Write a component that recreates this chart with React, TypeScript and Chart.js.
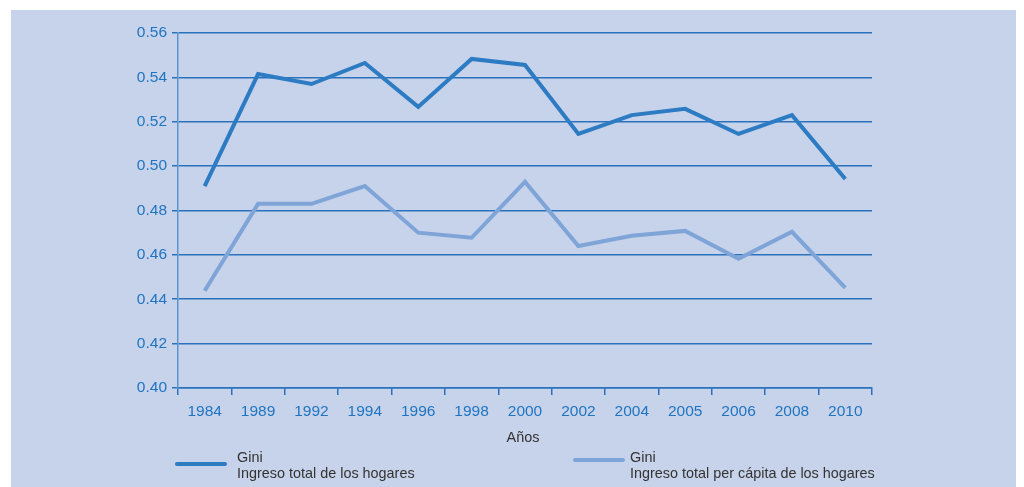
import React, { useEffect, useRef } from "react";
import { Chart, registerables } from "chart.js";

Chart.register(...registerables);

const years = ["1984", "1989", "1992", "1994", "1996", "1998", "2000", "2002", "2004", "2005", "2006", "2008", "2010"];
const giniHogares = [0.491, 0.5415, 0.537, 0.5465, 0.5267, 0.5483, 0.5456, 0.5145, 0.523, 0.5258, 0.5145, 0.523, 0.4942];
const giniPerCapita = [0.4438, 0.483, 0.483, 0.491, 0.47, 0.4677, 0.4929, 0.464, 0.4686, 0.4708, 0.4582, 0.4704, 0.4451];
const yMin = 0.4;
const yMax = 0.56;
const yStep = 0.02;

const seriesLabels = ["Ingreso total de los hogares", "Ingreso total per cápita de los hogares"];
const darkBlue = "#2c7bc3";
const lightBlue = "#7fa4d7";
const gridBlue = "#2a72bd";
const tickBlue = "#1f74c1";
const panelBg = "#c7d3ea";
const font = "'Liberation Sans', Arial, Helvetica, sans-serif";

export default function App() {
  const ref = useRef<HTMLCanvasElement | null>(null);

  useEffect(() => {
    if (!ref.current) return;
    const chart = new Chart(ref.current, {
      type: "line",
      data: {
        labels: years,
        datasets: [
          {
            label: seriesLabels[0],
            data: giniHogares,
            borderColor: darkBlue,
            borderWidth: 4,
            pointRadius: 0,
            tension: 0,
            fill: false,
          },
          {
            label: seriesLabels[1],
            data: giniPerCapita,
            borderColor: lightBlue,
            borderWidth: 4,
            pointRadius: 0,
            tension: 0,
            fill: false,
          },
        ],
      },
      options: {
        animation: false,
        responsive: true,
        maintainAspectRatio: false,
        layout: { padding: { left: 0, top: 23, right: 144, bottom: 69 } },
        plugins: { legend: { display: false }, tooltip: { enabled: false } },
        scales: {
          x: {
            offset: true,
            grid: { drawOnChartArea: false, drawTicks: true, tickLength: 7, color: gridBlue, lineWidth: 1.5, offset: true },
            border: { color: gridBlue, width: 1.5 },
            ticks: {
              color: tickBlue,
              font: { family: font, size: 15.5 },
              padding: 7,
              autoSkip: false,
              maxRotation: 0,
            },
            afterFit: (s: any) => {
              s.height = 30;
            },
          },
          y: {
            min: yMin,
            max: yMax,
            grid: { color: gridBlue, lineWidth: 1.5, tickLength: 6 },
            border: { color: "#5b95d0", width: 1.5 },
            ticks: {
              stepSize: yStep,
              color: tickBlue,
              font: { family: font, size: 15.5 },
              padding: 5,
              callback: (v: any) => Number(v).toFixed(2),
            },
            afterFit: (s: any) => {
              s.width = 167;
            },
          },
        },
      },
    });
    return () => chart.destroy();
  }, []);

  const textStyle: React.CSSProperties = {
    position: "absolute",
    fontFamily: font,
    fontSize: 14.4,
    lineHeight: "16px",
    color: "#333333",
    whiteSpace: "nowrap",
  };

  return (
    <div style={{ position: "fixed", left: 0, top: 0, width: 1024, height: 487, background: "#ffffff" }}>
      <div style={{ position: "absolute", left: 11, top: 10, width: 1005, height: 477, background: panelBg }}>
        <div style={{ position: "absolute", left: 0, top: 0, width: 1005, height: 477 }}>
          <canvas ref={ref} />
        </div>
        <div style={{ ...textStyle, left: 462, top: 419, width: 100, textAlign: "center" }}>Años</div>
        <div style={{ position: "absolute", left: 164, top: 452, width: 52, height: 4, borderRadius: 2, background: darkBlue }} />
        <div style={{ ...textStyle, left: 226, top: 439 }}>
          Gini
          <br />
          {seriesLabels[0]}
        </div>
        <div style={{ position: "absolute", left: 562, top: 448, width: 52, height: 4, borderRadius: 2, background: lightBlue }} />
        <div style={{ ...textStyle, left: 619, top: 439 }}>
          Gini
          <br />
          {seriesLabels[1]}
        </div>
      </div>
    </div>
  );
}
